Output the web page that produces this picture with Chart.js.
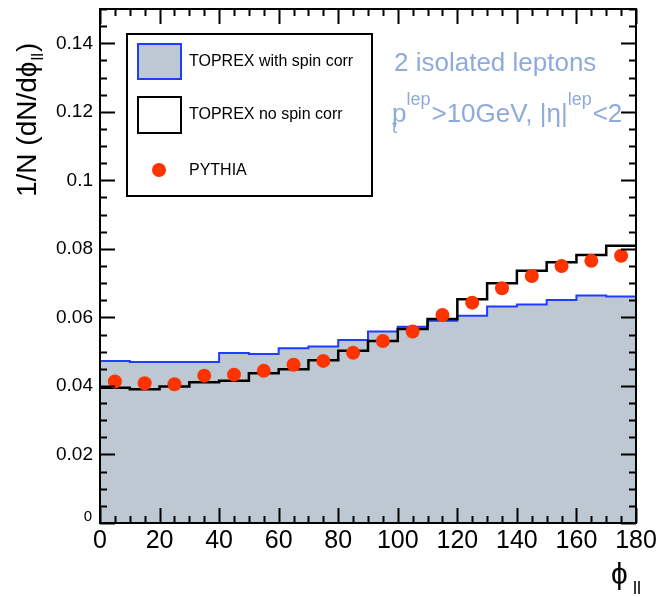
<!DOCTYPE html>
<html>
<head>
<meta charset="utf-8">
<script src="https://cdn.jsdelivr.net/npm/chart.js@4.4.1/dist/chart.umd.min.js"></script>
<style>
  html, body { margin: 0; padding: 0; background: #fff; }
  #c { display: block; }
</style>
</head>
<body>
<canvas id="c" width="660" height="597"></canvas>
<script>
// bins of phi_ll (deg)
const binEdges = [0, 10, 20, 30, 40, 50, 60, 70, 80, 90, 100, 110, 120, 130, 140, 150, 160, 170, 180];
const binCenters = [5, 15, 25, 35, 45, 55, 65, 75, 85, 95, 105, 115, 125, 135, 145, 155, 165, 175];

// TOPREX with spin corr (filled histogram)
const toprexSpin = [0.0473, 0.0470, 0.0470, 0.0470, 0.0496, 0.0493, 0.0510, 0.0515, 0.0534,
  0.0559, 0.0573, 0.0590, 0.0605, 0.0632, 0.0638, 0.0651, 0.0664, 0.0661];
// TOPREX no spin corr (open histogram)
const toprexNoSpin = [0.0395, 0.0390, 0.0398, 0.0411, 0.0415, 0.0437, 0.0449, 0.0475, 0.0503,
  0.0531, 0.0566, 0.0595, 0.0653, 0.0700, 0.0736, 0.0761, 0.0782, 0.0809];
// PYTHIA points
const pythia = [0.0413, 0.0408, 0.0405, 0.0430, 0.0433, 0.0444, 0.0462, 0.0473, 0.0497,
  0.0531, 0.0559, 0.0607, 0.0643, 0.0685, 0.0721, 0.0750, 0.0765, 0.0780];

const xTicks = [0, 20, 40, 60, 80, 100, 120, 140, 160, 180];
const yTicks = [0.02, 0.04, 0.06, 0.08, 0.1, 0.12, 0.14];
const yTickLabels = ["0.02", "0.04", "0.06", "0.08", "0.1", "0.12", "0.14"];

const FONT = "'Liberation Sans', Arial, Helvetica, sans-serif";
const PHI = "\u03d5";
const fillGrey = "#bdc8d2";
const blueLine = "#1f3cff";
const dotRed = "#ff3300";
const textBlue = "#8eabdc";

// histogram -> step points (last bin repeated at the right edge)
const toSteps = (vals) => {
  const pts = vals.map((v, i) => ({ x: binEdges[i], y: v }));
  pts.push({ x: binEdges[binEdges.length - 1], y: vals[vals.length - 1] });
  return pts;
};

const rootFrame = {
  id: "rootFrame",
  afterDatasetsDraw(chart) {
    const ctx = chart.ctx;
    const { left, right, top, bottom } = chart.chartArea;
    const xs = chart.scales.x;
    const ys = chart.scales.y;
    ctx.save();
    ctx.strokeStyle = "#000";
    ctx.lineWidth = 2;

    // x ticks, bottom and top (minor every 5)
    for (let v = 0; v <= 180; v += 5) {
      const px = Math.round(xs.getPixelForValue(v)) + 0.5;
      const len = v % 20 === 0 ? 15 : 7;
      ctx.beginPath();
      ctx.moveTo(px, bottom); ctx.lineTo(px, bottom - len);
      ctx.moveTo(px, top); ctx.lineTo(px, top + len);
      ctx.stroke();
    }
    // y ticks, left and right (minor every 0.005)
    for (let i = 0; i <= 30; i++) {
      const v = i * 0.005;
      const py = Math.round(ys.getPixelForValue(v)) + 0.5;
      const len = i % 4 === 0 ? 15 : 7;
      ctx.beginPath();
      ctx.moveTo(left, py); ctx.lineTo(left + len, py);
      ctx.moveTo(right, py); ctx.lineTo(right - len, py);
      ctx.stroke();
    }
    ctx.strokeRect(left, top, right - left, bottom - top);

    // tick labels
    ctx.fillStyle = "#000";
    ctx.font = "25px " + FONT;
    ctx.textAlign = "center";
    ctx.textBaseline = "top";
    xTicks.forEach((v) => ctx.fillText(String(v), xs.getPixelForValue(v), bottom + 6));

    ctx.font = "19px " + FONT;
    ctx.textAlign = "right";
    ctx.textBaseline = "middle";
    yTicks.forEach((v, i) => ctx.fillText(yTickLabels[i], left - 7, ys.getPixelForValue(v)));
    ctx.font = "15px " + FONT;
    ctx.textBaseline = "alphabetic";
    ctx.fillText("0", left - 8, bottom - 2);

    // y title, rotated
    ctx.save();
    ctx.translate(36, 197);
    ctx.rotate(-Math.PI / 2);
    ctx.textAlign = "left";
    ctx.font = "28px " + FONT;
    let s = "1/N (dN/d" + PHI;
    ctx.fillText(s, 0, 0);
    let w = ctx.measureText(s).width;
    ctx.font = "17px " + FONT;
    ctx.fillText("ll", w + 1, 7);
    w += ctx.measureText("ll").width + 2;
    ctx.font = "28px " + FONT;
    ctx.fillText(")", w, 0);
    ctx.restore();

    // x title
    ctx.textAlign = "left";
    ctx.font = "30px " + FONT;
    ctx.fillText(PHI, 611, 584);
    ctx.font = "18px " + FONT;
    ctx.fillText("ll", 633, 594);

    // legend box
    ctx.lineWidth = 2;
    ctx.strokeRect(127, 34, 245, 162);
    ctx.fillStyle = fillGrey;
    ctx.fillRect(138, 44, 43, 35);
    ctx.strokeStyle = blueLine;
    ctx.strokeRect(138, 44, 43, 35);
    ctx.strokeStyle = "#000";
    ctx.strokeRect(138, 97, 43, 36);
    ctx.fillStyle = dotRed;
    ctx.beginPath();
    ctx.arc(159, 170, 7, 0, Math.PI * 2);
    ctx.fill();
    ctx.fillStyle = "#000";
    ctx.font = "16px " + FONT;
    ctx.textBaseline = "middle";
    ctx.fillText("TOPREX with spin corr", 189, 62);
    ctx.fillText("TOPREX no spin corr", 189, 115);
    ctx.fillText("PYTHIA", 189, 171);

    // annotations
    ctx.fillStyle = textBlue;
    ctx.textBaseline = "alphabetic";
    ctx.font = "26px " + FONT;
    ctx.fillText("2 isolated leptons", 394, 71);

    let x = 392;
    const seg = (t, size, dy) => {
      ctx.font = size + "px " + FONT;
      ctx.fillText(t, x, 122 + dy);
      return ctx.measureText(t).width;
    };
    const pw = seg("p", 26, 0);
    seg("t", 18, 11);
    x += pw;
    x += seg("lep", 18, -17) + 1;
    x += seg(">10GeV, |\u03b7|", 26, 0);
    x += seg("lep", 18, -17) + 1;
    seg("<2", 26, 0);
    ctx.restore();
  }
};

new Chart(document.getElementById("c"), {
  type: "line",
  data: {
    datasets: [
      {
        type: "scatter",
        label: "PYTHIA",
        data: binCenters.map((x, i) => ({ x: x, y: pythia[i] })),
        backgroundColor: dotRed,
        borderWidth: 0,
        pointRadius: 7,
        order: 0
      },
      {
        label: "TOPREX no spin corr",
        data: toSteps(toprexNoSpin),
        stepped: true,
        borderColor: "#000",
        borderWidth: 2.5,
        pointRadius: 0,
        fill: false,
        order: 1
      },
      {
        label: "TOPREX with spin corr",
        data: toSteps(toprexSpin),
        stepped: true,
        borderColor: blueLine,
        borderWidth: 2,
        backgroundColor: fillGrey,
        pointRadius: 0,
        fill: "origin",
        order: 2
      }
    ]
  },
  options: {
    responsive: false,
    animation: false,
    layout: { padding: { left: 100, right: 24, top: 9, bottom: 74 } },
    plugins: { legend: { display: false }, tooltip: { enabled: false } },
    scales: {
      x: { type: "linear", min: 0, max: 180, display: false },
      y: { type: "linear", min: 0, max: 0.15, display: false }
    }
  },
  plugins: [rootFrame]
});
</script>
</body>
</html>
